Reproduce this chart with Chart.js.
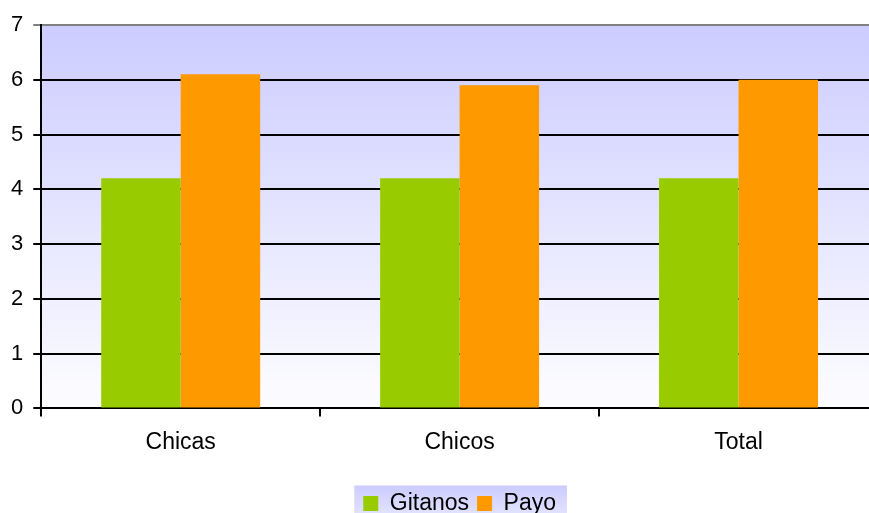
<!DOCTYPE html>
<html><head><meta charset="utf-8">
<script src="https://cdn.jsdelivr.net/npm/chart.js@4/dist/chart.umd.min.js"></script>
<style>html,body{margin:0;padding:0;overflow:hidden;background:#fff;width:869px;height:513px}canvas{display:block}</style>
</head><body>
<canvas id="c" width="880" height="513"></canvas>
<script>
const categories = ["Chicas", "Chicos", "Total"];
const gitanos = [4.2, 4.2, 4.2];
const payo = [6.1, 5.9, 6.0];
const seriesNames = ["Gitanos", "Payo"];

const shiftLegend = {
  id: 'shiftLegend',
  afterLayout(chart) {
    const L = chart.legend;
    if (!L) return;
    const a = chart.chartArea;
    const dx = (a.left + a.right) / 2 - (L.left + L.right) / 2;
    L.left += dx; L.right += dx;
    if (L.legendHitBoxes) L.legendHitBoxes.forEach(h => { h.left += dx; });
  }
};

const bgPlugin = {
  id: 'bg',
  beforeDraw(chart) {
    const {ctx, chartArea: a} = chart;
    ctx.save();
    const g = ctx.createLinearGradient(0, a.top, 0, a.bottom);
    g.addColorStop(0, '#ccccff');
    g.addColorStop(1, '#fdfdff');
    ctx.fillStyle = g;
    ctx.fillRect(a.left, a.top, a.right - a.left, a.bottom - a.top);
    const L = chart.legend;
    if (L && L.legendHitBoxes && L.legendHitBoxes.length) {
      const hb = L.legendHitBoxes;
      const x0 = hb[0].left - 9, x1 = hb[hb.length-1].left + hb[hb.length-1].width + 11;
      const cy = hb[0].top + hb[0].height / 2;
      const y0 = cy - 18, y1 = cy + 22;
      const g2 = ctx.createLinearGradient(0, y0, 0, y1);
      g2.addColorStop(0, '#ccccff');
      g2.addColorStop(1, '#eaeaff');
      ctx.fillStyle = g2;
      ctx.fillRect(x0, y0, x1 - x0, y1 - y0);
    }
    ctx.restore();
  }
};

const FONT = 'Liberation Sans, Arial, sans-serif';

new Chart(document.getElementById('c'), {
  type: 'bar',
  data: {
    labels: categories,
    datasets: [
      {label: seriesNames[0], data: gitanos, backgroundColor: '#99cc00', categoryPercentage: 0.57, barPercentage: 1},
      {label: seriesNames[1], data: payo, backgroundColor: '#ff9900', categoryPercentage: 0.57, barPercentage: 1}
    ]
  },
  options: {
    responsive: false,
    animation: false,
    layout: {padding: {top: 25, right: 2, left: 1, bottom: -12}},
    plugins: {
      tooltip: {enabled: false},
      legend: {
        position: 'bottom',
        labels: {
          color: '#000',
          font: {family: FONT, size: 23},
          boxWidth: 15, boxHeight: 15, padding: 8
        }
      }
    },
    scales: {
      x: {
        afterFit: (s) => { s.height += 16; },
        grid: {drawOnChartArea: false, drawTicks: true, tickLength: 8, color: '#000', lineWidth: 2, offset: true},
        border: {color: '#000', width: 2},
        ticks: {color: '#000', font: {family: FONT, size: 23}, padding: 12}
      },
      y: {
        min: 0, max: 7,
        grid: {
          color: (c) => c.tick && c.tick.value === 7 ? '#808080' : '#000',
          lineWidth: 2, tickLength: 8, drawTicks: true
        },
        border: {color: '#000', width: 2},
        ticks: {stepSize: 1, color: '#000', font: {family: FONT, size: 22}, padding: 10}
      }
    }
  },
  plugins: [shiftLegend, bgPlugin]
});
</script>
</body></html>
